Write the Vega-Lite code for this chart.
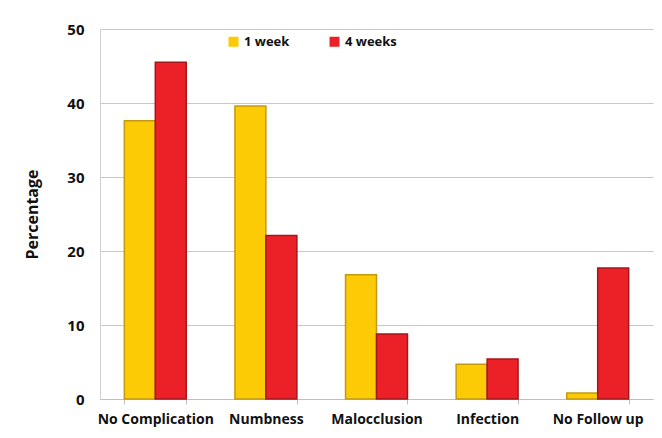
{
  "$schema": "https://vega.github.io/schema/vega-lite/v6.json",
  "width": 553,
  "height": 370,
  "autosize": {"type": "none"},
  "padding": {"left": 100, "top": 29, "right": 9, "bottom": 39},
  "background": "white",
  "config": {
    "view": {"stroke": null},
    "font": "Open Sans"
  },
  "data": {
    "values": [
      {"complication": "No Complication", "time": "1 week", "pct": 37.6},
      {"complication": "No Complication", "time": "4 weeks", "pct": 45.5},
      {"complication": "Numbness", "time": "1 week", "pct": 39.6},
      {"complication": "Numbness", "time": "4 weeks", "pct": 22.1},
      {"complication": "Malocclusion", "time": "1 week", "pct": 16.8},
      {"complication": "Malocclusion", "time": "4 weeks", "pct": 8.8},
      {"complication": "Infection", "time": "1 week", "pct": 4.7},
      {"complication": "Infection", "time": "4 weeks", "pct": 5.4},
      {"complication": "No Follow up", "time": "1 week", "pct": 0.8},
      {"complication": "No Follow up", "time": "4 weeks", "pct": 17.7}
    ]
  },
  "mark": {"type": "bar", "strokeWidth": 1.5},
  "encoding": {
    "x": {
      "field": "complication",
      "type": "nominal",
      "sort": null,
      "scale": {"paddingInner": 0.44, "paddingOuter": 0.22},
      "axis": {
        "title": null,
        "labelAngle": 0,
        "labelFont": "Open Sans",
        "labelFontWeight": "bold",
        "labelFontSize": 14,
        "labelColor": "#111111",
        "labelPadding": 8,
        "domainColor": "#BFBFBF",
        "tickColor": "#BFBFBF",
        "tickBand": "extent",
        "tickSize": 5
      }
    },
    "xOffset": {"field": "time", "type": "nominal", "scale": {"paddingInner": 0}},
    "y": {
      "field": "pct",
      "type": "quantitative",
      "scale": {"domain": [0, 50], "nice": false},
      "axis": {
        "title": "Percentage",
        "titleFont": "Open Sans",
        "titleFontWeight": "bold",
        "titleFontSize": 16,
        "titleColor": "#111111",
        "titlePadding": 26,
        "values": [0, 10, 20, 30, 40, 50],
        "labelFont": "Open Sans",
        "labelFontWeight": "bold",
        "labelFontSize": 15,
        "labelColor": "#111111",
        "labelPadding": 16,
        "grid": true,
        "gridColor": "#C8C8C8",
        "gridWidth": 1.2,
        "domainColor": "#D0D0D0",
        "ticks": false
      }
    },
    "color": {
      "field": "time",
      "type": "nominal",
      "scale": {"domain": ["1 week", "4 weeks"], "range": ["#FCCB05", "#EC2027"]},
      "legend": {
        "title": null,
        "orient": "none",
        "legendX": 127,
        "legendY": 6,
        "direction": "horizontal",
        "symbolType": "square",
        "symbolSize": 100,
        "symbolStrokeWidth": 0,
        "labelFont": "Open Sans",
        "labelFontWeight": "bold",
        "labelFontSize": 13,
        "labelColor": "#111111",
        "columnPadding": 38,
        "labelLimit": 100
      }
    },
    "stroke": {
      "field": "time",
      "type": "nominal",
      "scale": {"domain": ["1 week", "4 weeks"], "range": ["#C29A10", "#A5161B"]},
      "legend": null
    }
  }
}
